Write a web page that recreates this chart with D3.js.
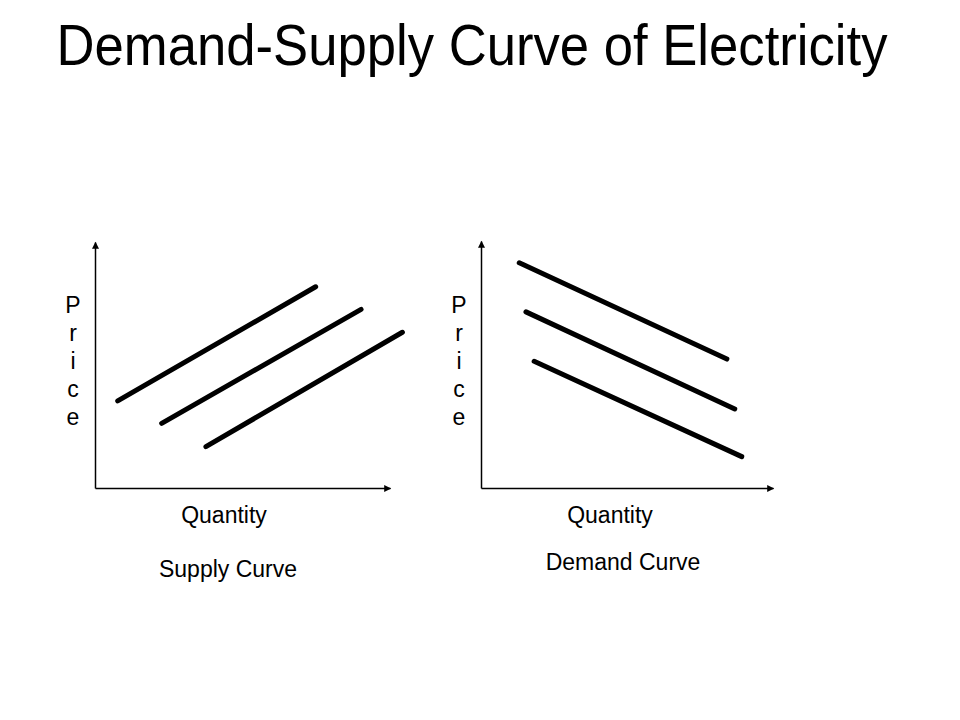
<!DOCTYPE html>
<html>
<head>
<meta charset="utf-8">
<script src="https://cdn.jsdelivr.net/npm/d3@7/dist/d3.min.js"></script>
<style>
  html, body { margin: 0; padding: 0; background: #fff; }
  svg { display: block; font-family: "Liberation Sans", Arial, sans-serif; }
</style>
</head>
<body>
<svg id="chart" width="960" height="720"></svg>
<script>
// ---- Data ----
const title = "Demand-Supply Curve of Electricity";
const axisLabelY = "Price";
const axisLabelX = "Quantity";
const panelTitles = ["Supply Curve", "Demand Curve"];

// Supply curves: [x0, y0, x1, y1] in abstract units (0-10)
const supplyLines = [
  [0.77, 3.54, 7.48, 8.18],
  [2.26, 2.63, 9.02, 7.26],
  [3.76, 1.68, 10.42, 6.33]
];
// Demand curves
const demandLines = [
  [1.31, 9.12, 8.42, 5.22],
  [1.54, 7.13, 8.69, 3.20],
  [1.82, 5.13, 8.93, 1.27]
];

// ---- Layout ----
const svg = d3.select("#chart");

svg.append("defs").append("marker")
  .attr("id", "arrow")
  .attr("viewBox", "0 0 10 10")
  .attr("refX", 9).attr("refY", 5)
  .attr("markerWidth", 8).attr("markerHeight", 7)
  .attr("markerUnits", "userSpaceOnUse")
  .attr("orient", "auto")
  .append("path")
  .attr("d", "M0,0 L10,5 L0,10 Z")
  .attr("fill", "#000");

const titleText = svg.append("text")
  .attr("transform", "translate(472,65) scale(0.908,1)")
  .attr("text-anchor", "middle")
  .attr("font-size", 58)
  .attr("fill", "#000")
  .text(title);

const panels = [
  { lines: supplyLines, x0: 95, x1: 390, y0: 488, y1: 242, priceX: 73,
    qtyX: 224, titleX: 228, titleY: 577, name: panelTitles[0] },
  { lines: demandLines, x0: 481, x1: 773, y0: 488, y1: 241, priceX: 459,
    qtyX: 610, titleX: 623, titleY: 570, name: panelTitles[1] }
];

panels.forEach(p => {
  const x = d3.scaleLinear().domain([0, 10]).range([p.x0, p.x1]);
  const y = d3.scaleLinear().domain([0, 10]).range([p.y0, p.y1]);
  const g = svg.append("g");

  const xAxis = g.append("g").attr("transform", `translate(0,${p.y0})`)
    .call(d3.axisBottom(x).tickValues([]).tickSizeOuter(0));
  const yAxis = g.append("g").attr("transform", `translate(${p.x0},0)`)
    .call(d3.axisLeft(y).tickValues([]).tickSizeOuter(0));
  [xAxis, yAxis].forEach(a => a.select(".domain")
    .attr("stroke", "#000").attr("stroke-width", 1.5)
    .attr("marker-end", "url(#arrow)"));

  g.selectAll("line.curve").data(p.lines).join("line")
    .attr("class", "curve")
    .attr("x1", d => x(d[0])).attr("y1", d => y(d[1]))
    .attr("x2", d => x(d[2])).attr("y2", d => y(d[3]))
    .attr("stroke", "#000")
    .attr("stroke-width", 5)
    .attr("stroke-linecap", "round");

  // Vertical "Price" label
  g.append("text")
    .attr("text-anchor", "middle")
    .attr("font-size", 23)
    .attr("fill", "#000")
    .selectAll("tspan").data(axisLabelY.split("")).join("tspan")
    .attr("x", p.priceX)
    .attr("y", (d, i) => 313 + i * 28)
    .text(d => d);

  g.append("text")
    .attr("x", p.qtyX).attr("y", 523)
    .attr("text-anchor", "middle")
    .attr("font-size", 23)
    .attr("fill", "#000")
    .text(axisLabelX);

  g.append("text")
    .attr("x", p.titleX).attr("y", p.titleY)
    .attr("text-anchor", "middle")
    .attr("font-size", 23)
    .attr("fill", "#000")
    .text(p.name);
});
</script>
</body>
</html>
